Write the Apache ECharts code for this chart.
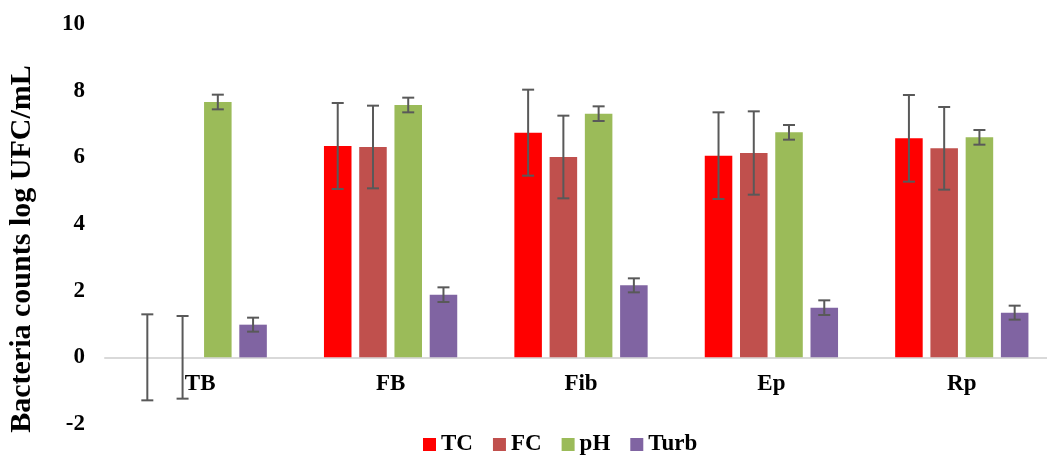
<!DOCTYPE html>
<html>
<head>
<meta charset="utf-8">
<script src="https://cdn.jsdelivr.net/npm/echarts@6/dist/echarts.min.js"></script>
<style>html,body{margin:0;padding:0;background:#fff}#c{width:1047px;height:458px}</style>
</head>
<body>
<div id="c"></div>
<script>
var categories = ['TB', 'FB', 'Fib', 'Ep', 'Rp'];
var seriesNames = ['TC', 'FC', 'pH', 'Turb'];
var tcValues = [0, 6.34, 6.74, 6.05, 6.57];
var fcValues = [0, 6.31, 6.01, 6.13, 6.27];
var phValues = [7.66, 7.57, 7.31, 6.75, 6.60];
var turbValues = [0.98, 1.88, 2.16, 1.49, 1.34];
var tcErrors = [1.29, 1.29, 1.29, 1.30, 1.30];
var fcErrors = [1.24, 1.24, 1.24, 1.25, 1.24];
var phErrors = [0.22, 0.22, 0.22, 0.22, 0.22];
var turbErrors = [0.21, 0.22, 0.21, 0.22, 0.21];
var yTicks = [-2, 0, 2, 4, 6, 8, 10];

var colors = ['#FF0000', '#C0504D', '#9BBB59', '#8064A2'];
var values = [tcValues, fcValues, phValues, turbValues];
var errors = [tcErrors, fcErrors, phErrors, turbErrors];
var CAT_GAP = 0.30, BAR_GAP = 0.28;
var fontFam = '"Liberation Serif", "Times New Roman", serif';

var series = [];
values.forEach(function (vals, i) {
  series.push({
    name: seriesNames[i], type: 'bar', data: vals,
    itemStyle: { color: colors[i] },
    barGap: (BAR_GAP * 100) + '%', barCategoryGap: (CAT_GAP * 100) + '%'
  });
});
values.forEach(function (vals, i) {
  var data = vals.map(function (v, k) { return [k, v, errors[i][k]]; });
  series.push({
    name: seriesNames[i] + ' error', type: 'custom', z: 10,
    data: data,
    encode: { x: 0, y: 1 },
    renderItem: function (params, api) {
      var k = api.value(0), v = api.value(1), e = api.value(2);
      var W = api.size([1, 0])[0];
      var b = W * (1 - CAT_GAP) / (4 + 3 * BAR_GAP);
      var off = -W * (1 - CAT_GAP) / 2 + b / 2 + i * b * (1 + BAR_GAP);
      var hi = api.coord([k, v + e]);
      var lo = api.coord([k, v - e]);
      var x = hi[0] + off;
      var cap = 6;
      var st = { stroke: '#595959', lineWidth: 2, fill: null };
      return { type: 'group', children: [
        { type: 'line', shape: { x1: x, y1: hi[1], x2: x, y2: lo[1] }, style: st },
        { type: 'line', shape: { x1: x - cap, y1: hi[1], x2: x + cap, y2: hi[1] }, style: st },
        { type: 'line', shape: { x1: x - cap, y1: lo[1], x2: x + cap, y2: lo[1] }, style: st }
      ]};
    }
  });
});

var chart = echarts.init(document.getElementById('c'));
chart.setOption({
  animation: false,
  textStyle: { fontFamily: fontFam },
  grid: { left: 105, width: 952, top: 24, bottom: 34, outerBoundsMode: 'none', containLabel: false },
  legend: {
    data: seriesNames, bottom: -3, left: 418,
    icon: 'rect', itemWidth: 13, itemHeight: 13, itemGap: 20,
    textStyle: { fontFamily: fontFam, fontWeight: 'bold', fontSize: 23, color: '#000' }
  },
  xAxis: {
    type: 'category', data: categories,
    axisLine: { onZero: true, lineStyle: { color: '#d9d9d9', width: 2 } },
    axisTick: { show: false },
    axisLabel: { margin: -51, fontFamily: fontFam, fontWeight: 'bold', fontSize: 23, color: '#000' }
  },
  yAxis: {
    type: 'value', min: yTicks[0], max: yTicks[yTicks.length - 1], interval: 2,
    name: 'Bacteria counts log UFC/mL', nameLocation: 'middle', nameGap: 68,
    nameTextStyle: { fontFamily: fontFam, fontWeight: 'bold', fontSize: 30, color: '#000', padding: [0, 50, 0, 0] },
    axisLine: { show: false }, axisTick: { show: false }, splitLine: { show: false },
    axisLabel: { margin: 20, fontFamily: fontFam, fontWeight: 'bold', fontSize: 23, color: '#000' }
  },
  series: series
});
</script>
</body>
</html>
